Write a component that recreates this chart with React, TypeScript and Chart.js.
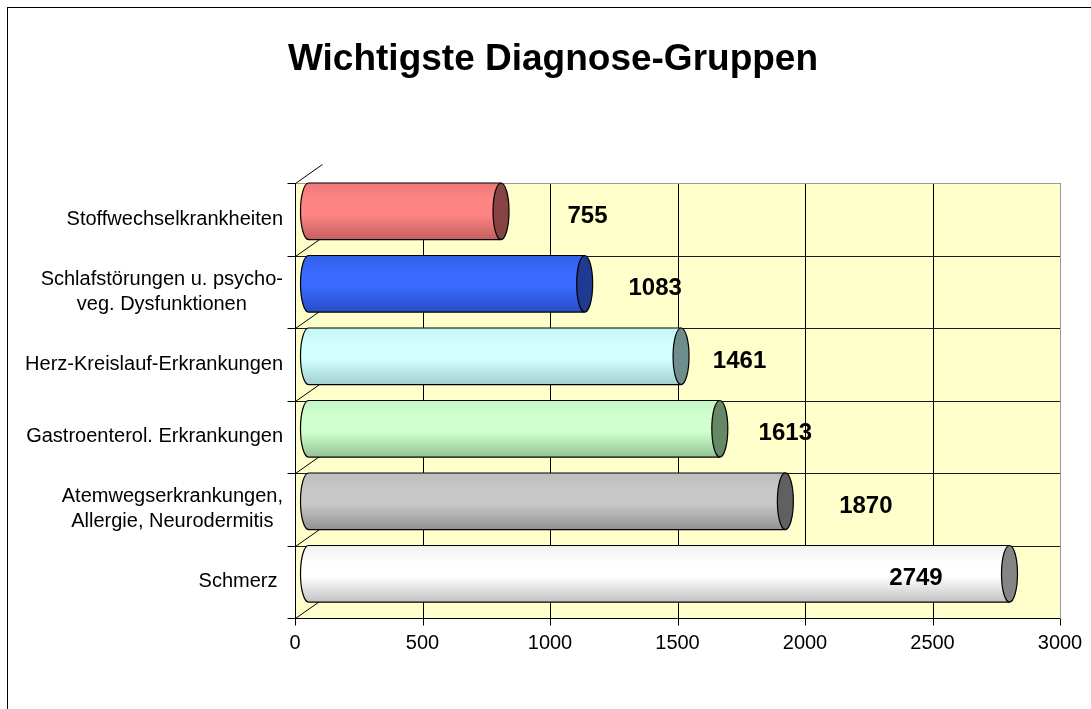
import React, { useEffect, useRef } from "react";
import { Chart, registerables } from "chart.js";

Chart.register(...registerables);

// ---------- data ----------
const title = "Wichtigste Diagnose-Gruppen";
const categories: string[][] = [
  ["Stoffwechselkrankheiten"],
  ["Schlafstörungen u. psycho-", "veg. Dysfunktionen"],
  ["Herz-Kreislauf-Erkrankungen"],
  ["Gastroenterol. Erkrankungen"],
  ["Atemwegserkrankungen,", "Allergie, Neurodermitis"],
  ["Schmerz "],
];
const values = [755, 1083, 1461, 1613, 1870, 2749];
const xTicks = [0, 500, 1000, 1500, 2000, 2500, 3000];

// ---------- styles ----------
const FONT = "'Liberation Sans', Arial, Helvetica, sans-serif";
const barStyles = [
  { top: "#EE7878", light: "#FF8585", dark: "#C45F5F", cap: "#874343" },
  { top: "#3360E8", light: "#3A6AFF", dark: "#284EC4", cap: "#1F3A90" },
  { top: "#C4F5F5", light: "#D2FFFF", dark: "#A2D0D0", cap: "#6E8E8E" },
  { top: "#C4F5C4", light: "#D0FFD0", dark: "#94C494", cap: "#668866" },
  { top: "#BDBDBD", light: "#C8C8C8", dark: "#929292", cap: "#606060" },
  { top: "#F0F0F0", light: "#FFFFFF", dark: "#C2C2C2", cap: "#858585" },
];
const labelShift = [100, 84, 72, 79, 94, -80];
const DEPTH_X = 27;
const DEPTH_Y = 19;

const decorPlugin = {
  id: "decor",
  beforeDraw(chart: any) {
    const ctx = chart.ctx as CanvasRenderingContext2D;
    const { left, right, top, bottom } = chart.chartArea;
    const W = chart.width;
    ctx.save();
    ctx.fillStyle = "#FFFFFF";
    ctx.fillRect(0, 0, W, chart.height);
    // outer frame (right and bottom edges lie outside the picture)
    ctx.strokeStyle = "#000";
    ctx.lineWidth = 1;
    ctx.strokeRect(7.5, 7.5, W + 20, chart.height + 20);
    // title
    ctx.fillStyle = "#000";
    ctx.font = `bold 37px ${FONT}`;
    ctx.textAlign = "center";
    ctx.textBaseline = "alphabetic";
    ctx.fillText(title, 553, 70);
    // plot background
    ctx.fillStyle = "#FFFFCC";
    ctx.fillRect(left, top, right - left, bottom - top);

    const xs = chart.scales.x;
    const ys = chart.scales.y;
    const n = categories.length;
    const bounds: number[] = [];
    for (let i = 0; i <= n; i++) {
      bounds.push(Math.round(ys.getPixelForValue(i - 0.5)) + 0.5);
    }
    // vertical grid lines
    ctx.lineWidth = 1;
    xTicks.forEach((v) => {
      const px = Math.round(xs.getPixelForValue(v)) + 0.5;
      if (v === xTicks[0]) return;
      ctx.strokeStyle = v === xTicks[xTicks.length - 1] ? "#9A9A9A" : "#000";
      ctx.beginPath();
      ctx.moveTo(px, top);
      ctx.lineTo(px, bottom);
      ctx.stroke();
    });
    // horizontal grid lines
    bounds.forEach((y, i) => {
      if (i === n) return;
      ctx.strokeStyle = i === 0 ? "#9A9A9A" : "#1A1A1A";
      ctx.beginPath();
      ctx.moveTo(left, y);
      ctx.lineTo(right, y);
      ctx.stroke();
    });
    // depth diagonals
    ctx.strokeStyle = "#000";
    const lx = Math.round(left) + 0.5;
    bounds.forEach((y) => {
      ctx.beginPath();
      ctx.moveTo(lx, y);
      ctx.lineTo(lx + DEPTH_X, y - DEPTH_Y);
      ctx.stroke();
    });
    // left axis + ticks
    ctx.beginPath();
    ctx.moveTo(lx, top);
    ctx.lineTo(lx, bottom);
    bounds.forEach((y) => {
      ctx.moveTo(lx - 8, y);
      ctx.lineTo(lx, y);
    });
    ctx.stroke();
    // bottom axis + ticks
    const by = Math.round(bottom) + 0.5;
    ctx.beginPath();
    ctx.moveTo(left, by);
    ctx.lineTo(right, by);
    xTicks.forEach((v) => {
      const px = Math.round(xs.getPixelForValue(v)) + 0.5;
      ctx.moveTo(px, by);
      ctx.lineTo(px, by + 7);
    });
    ctx.stroke();

    // category labels
    ctx.fillStyle = "#000";
    ctx.font = `20px ${FONT}`;
    ctx.textAlign = "center";
    ctx.textBaseline = "middle";
    categories.forEach((lines, i) => {
      const cy = ys.getPixelForValue(i);
      const wMax = Math.max(...lines.map((l) => ctx.measureText(l).width));
      const cx = 283 - wMax / 2;
      const lh = 25;
      lines.forEach((l, j) => {
        const yy = cy + (j - (lines.length - 1) / 2) * lh;
        ctx.fillText(l, cx, yy);
      });
    });
    ctx.restore();
  },
  afterDatasetsDraw(chart: any) {
    const ctx = chart.ctx as CanvasRenderingContext2D;
    const meta = chart.getDatasetMeta(0);
    const xs = chart.scales.x;
    ctx.save();
    meta.data.forEach((bar: any, i: number) => {
      const st = barStyles[i];
      const dx = DEPTH_X / 2;
      const dy = -8;
      const x0 = bar.base + dx;
      const x1 = bar.x + dx;
      const h = bar.height;
      const yc = bar.y + dy;
      const t = yc - h / 2;
      const b = yc + h / 2;
      const rx = 8;
      const ry = h / 2;
      const g = ctx.createLinearGradient(0, t, 0, b);
      g.addColorStop(0, st.top);
      g.addColorStop(0.3, st.light);
      g.addColorStop(0.55, st.light);
      g.addColorStop(1, st.dark);
      ctx.beginPath();
      ctx.moveTo(x1, t);
      ctx.lineTo(x0, t);
      ctx.ellipse(x0, yc, rx, ry, 0, -Math.PI / 2, Math.PI / 2, true);
      ctx.lineTo(x1, b);
      ctx.closePath();
      ctx.fillStyle = g;
      ctx.fill();
      ctx.strokeStyle = "#000";
      ctx.lineWidth = 1.2;
      ctx.beginPath();
      ctx.moveTo(x1, t);
      ctx.lineTo(x0, t);
      ctx.ellipse(x0, yc, rx, ry, 0, -Math.PI / 2, Math.PI / 2, true);
      ctx.lineTo(x1, b);
      ctx.stroke();
      // end cap
      ctx.beginPath();
      ctx.ellipse(x1, yc, rx, ry, 0, 0, Math.PI * 2);
      ctx.fillStyle = st.cap;
      ctx.fill();
      ctx.stroke();
    });
    // value labels
    ctx.fillStyle = "#000";
    ctx.font = `bold 24px ${FONT}`;
    ctx.textAlign = "center";
    ctx.textBaseline = "middle";
    values.forEach((v, i) => {
      const el = meta.data[i];
      const px = xs.getPixelForValue(v) + labelShift[i];
      ctx.fillText(String(v), px, el.y - 3);
    });
    ctx.restore();
  },
};

export default function App() {
  const ref = useRef<HTMLCanvasElement | null>(null);
  useEffect(() => {
    if (!ref.current) return;
    const chart = new Chart(ref.current, {
      type: "bar",
      data: {
        labels: categories.map((c) => c.join(" ")),
        datasets: [
          {
            data: values,
            backgroundColor: "rgba(0,0,0,0)",
            borderWidth: 0,
            categoryPercentage: 1,
            barPercentage: 0.78,
          },
        ],
      },
      options: {
        indexAxis: "y",
        responsive: false,
        animation: false,
        layout: { padding: { left: 0, right: 31, top: 183, bottom: 0 } },
        plugins: {
          legend: { display: false },
          tooltip: { enabled: false },
          title: { display: false },
        },
        scales: {
          x: {
            min: 0,
            max: 3000,
            afterBuildTicks: (s: any) => {
              s.ticks = xTicks.map((v) => ({ value: v }));
            },
            afterFit: (s: any) => {
              s.height = 91;
            },
            grid: { display: false, drawTicks: true, tickLength: 7 },
            border: { display: false },
            ticks: {
              autoSkip: false,
              maxRotation: 0,
              padding: 6,
              color: "#000",
              font: { family: FONT, size: 20 },
              callback: (v: any) => String(v),
            },
          },
          y: {
            afterFit: (s: any) => {
              s.width = 295;
            },
            grid: { display: false },
            border: { display: false },
            ticks: { display: false },
          },
        },
      },
      plugins: [decorPlugin],
    } as any);
    return () => chart.destroy();
  }, []);
  return (
    <div style={{ position: "fixed", left: 0, top: 0, width: 1091, height: 709 }}>
      <canvas ref={ref} width={1091} height={709} style={{ display: "block" }} />
    </div>
  );
}
